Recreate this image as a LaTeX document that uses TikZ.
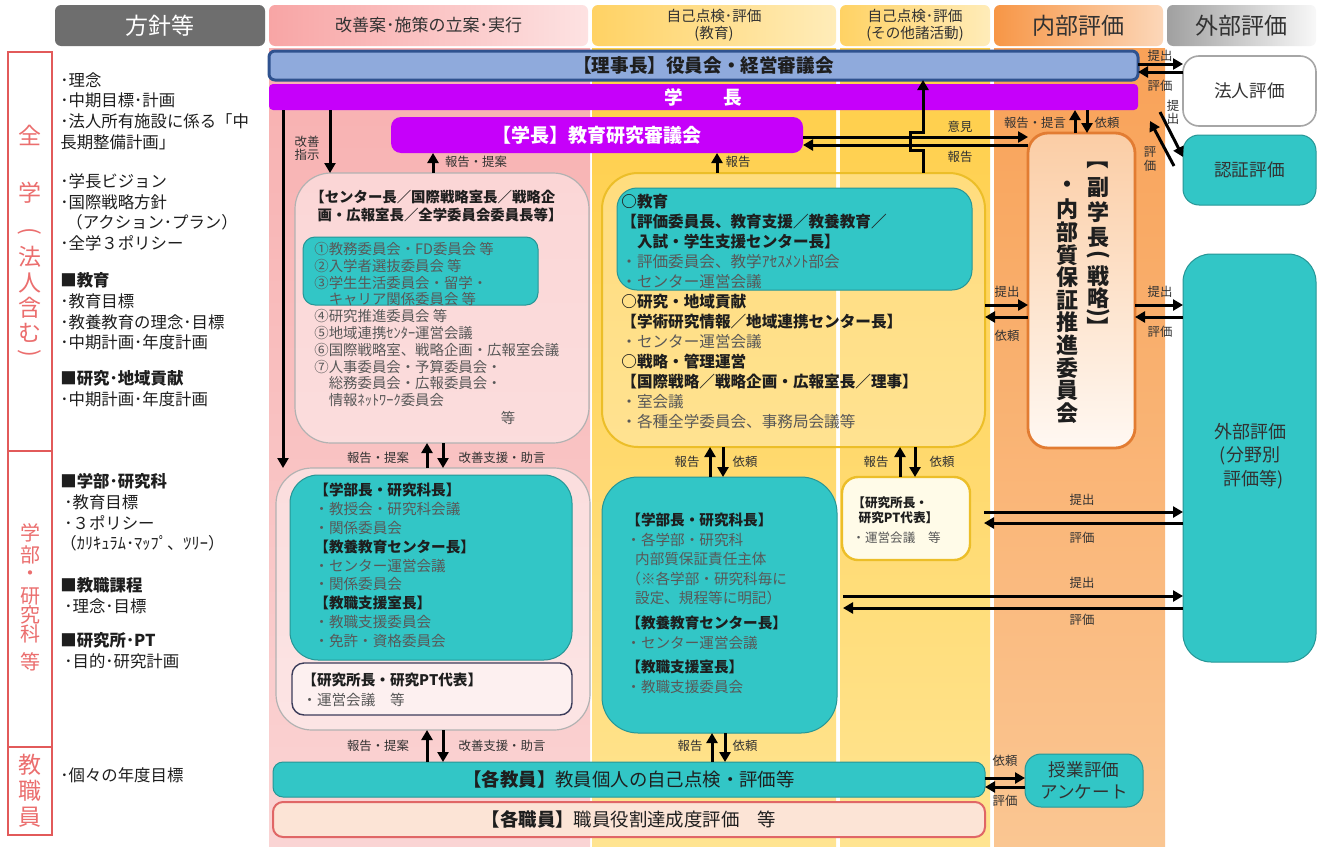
\documentclass[tikz,border=0pt]{standalone}
\usepackage{fontspec}
\setmainfont{Noto Sans CJK JP}
\usepackage{graphicx}
\usetikzlibrary{arrows.meta}
\definecolor{tealF}{RGB}{50,198,198}
\definecolor{tealD}{RGB}{38,150,150}
\definecolor{purp}{RGB}{198,0,250}
\definecolor{blueF}{RGB}{143,170,220}
\definecolor{blueD}{RGB}{47,82,143}
\definecolor{redB}{RGB}{226,90,90}
\definecolor{redT}{RGB}{235,110,110}
\definecolor{pinkT}{RGB}{248,176,176}
\definecolor{pinkM}{RGB}{253,234,234}
\definecolor{pinkB}{RGB}{250,212,212}
\definecolor{yelT}{RGB}{255,206,72}
\definecolor{yelM}{RGB}{255,246,220}
\definecolor{yelB}{RGB}{255,228,145}
\definecolor{orT}{RGB}{249,162,88}
\definecolor{orM}{RGB}{255,244,236}
\definecolor{orB}{RGB}{250,198,146}
\definecolor{itemG}{RGB}{88,88,88}
\definecolor{peach}{RGB}{252,228,214}
\definecolor{goldD}{RGB}{236,190,40}
\definecolor{orD}{RGB}{226,124,50}
\definecolor{txtD}{RGB}{30,30,30}
\definecolor{lblC}{RGB}{50,50,50}
\definecolor{vpT}{RGB}{251,205,165}
\definecolor{vpB}{RGB}{255,248,242}
\definecolor{hpL}{RGB}{248,165,165}
\definecolor{hpR}{RGB}{253,226,226}
\definecolor{hyL}{RGB}{255,210,100}
\definecolor{hyR}{RGB}{255,236,185}
\definecolor{hoL}{RGB}{247,150,70}
\definecolor{hoR}{RGB}{252,215,185}
\definecolor{hgL}{RGB}{160,160,160}
\definecolor{hgR}{RGB}{248,248,248}
\newcommand{\vrot}[1]{\rotatebox[origin=c]{-90}{#1}}
\newcommand{\mkbox}[6]{%
  \path (#3,#4) -- (#5,#6) coordinate[midway] (#2-m);%
  \node[inner sep=0pt, outer sep=0pt, minimum width={(#5-(#3))*0.5pt}, minimum height={(#6-(#4))*0.5pt}, #1] (#2) at (#2-m) {};}
\begin{document}
\begin{tikzpicture}[x=0.5pt,y=-0.5pt,
  arr/.style={line width=1.5pt, -{Triangle[length=5pt,width=5.5pt]}},
  lbl/.style={inner sep=0pt, text=lblC, font=\fontsize{6.2}{6.6}\selectfont, align=center},
  blk/.style={inner sep=0pt, anchor=north west, align=left, text=txtD},
  tealbox/.style={fill=tealF, draw=tealD, line width=0.5pt},
  grp/.style={draw=gray!60, line width=0.6pt, fill=white, fill opacity=0.45, rounded corners=18pt},
  vch/.style={inner sep=0pt, text=redT},
  vpt/.style={inner sep=0pt, text=txtD, font=\fontsize{11}{11}\selectfont\bfseries},
  redbox/.style={draw=redB, line width=1.3pt, fill=white}]
\useasboundingbox (0,0) rectangle (1321,846);
\fill[white] (0,0) rectangle (1321,846);
% column backgrounds
\fill[top color=pinkT, middle color=pinkM, bottom color=pinkB] (269,48) rectangle (590,846);
\fill[top color=yelT, middle color=yelM, bottom color=yelB] (592,48) rectangle (836,846);
\fill[top color=yelT, middle color=yelM, bottom color=yelB] (840,48) rectangle (990,846);
\fill[top color=orT, middle color=orM, bottom color=orB] (994,48) rectangle (1165,846);
% headers
\mkbox{fill={rgb,255:red,110;green,110;blue,110}, rounded corners=3pt}{h1}{55}{5}{265}{46}
\mkbox{left color=hpL, right color=hpR, rounded corners=3pt}{h2}{269}{5}{588}{46}
\mkbox{left color=hyL, right color=hyR, rounded corners=3pt}{h3}{592}{5}{836}{46}
\mkbox{left color=hyL, right color=hyR, rounded corners=3pt}{h4}{840}{5}{990}{46}
\mkbox{left color=hoL, right color=hoR, rounded corners=3pt}{h5}{994}{5}{1163}{46}
\mkbox{left color=hgL, right color=hgR, rounded corners=3pt}{h6}{1167}{5}{1316}{46}
\node[text=white, font=\fontsize{11.5}{13}\selectfont] (th1) at (h1) {方針等};
\node[text=lblC, font=\fontsize{8.5}{10}\selectfont] (th2) at (h2) {改善案･施策の立案･実行};
\node[text=lblC, font=\fontsize{7.3}{8.6}\selectfont, align=center] (th3) at (h3) {自己点検･評価\\(教育)};
\node[text=lblC, font=\fontsize{7.3}{8.6}\selectfont, align=center] (th4) at (h4) {自己点検･評価\\(その他諸活動)};
\node[text=lblC, font=\fontsize{11.5}{13}\selectfont] (th5) at (h5) {内部評価};
\node[text=lblC, font=\fontsize{11.5}{13}\selectfont] (th6) at (h6) {外部評価};
% left red boxes
\mkbox{redbox}{lb1}{8}{52}{52}{451}
\mkbox{redbox}{lb2}{8}{451}{52}{747}
\mkbox{redbox}{lb3}{8}{747}{52}{835}
\begin{scope}[every node/.style={vch, font=\fontsize{11.5}{12}\selectfont}]
\node (v1) at (30,135) {全};
\node (v2) at (30,193) {学};
\node (v3) at (30,233) {\vrot{(}};
\node (v4) at (30,257) {法};
\node (v5) at (30,283) {人};
\node (v6) at (30,308) {含};
\node (v7) at (30,333) {む};
\node (v8) at (30,355) {\vrot{)}};
\node (w1) at (30,765) {教};
\node (w2) at (30,791) {職};
\node (w3) at (30,817) {員};
\end{scope}
\begin{scope}[every node/.style={vch, font=\fontsize{10}{11}\selectfont}]
\node (u1) at (30,533) {学};
\node (u2) at (30,555) {部};
\node (u3) at (30,576) {・};
\node (u4) at (30,596) {研};
\node (u5) at (30,615) {究};
\node (u6) at (30,634) {科};
\node (u7) at (30,662) {等};
\end{scope}
% left column texts
\begin{scope}[every node/.style={blk, font=\fontsize{8.2}{10.4}\selectfont}]
\node (L1) at (60,72) {･理念\\･中期目標･計画\\･法人所有施設に係る「中\\長期整備計画」};
\node (L2) at (60,173) {･学長ビジョン\\･国際戦略方針\\\hspace*{3pt}（アクション･プラン）\\･全学３ポリシー};
\node (L3) at (60,272) {\textbf{■教育}\\･教育目標\\･教養教育の理念･目標\\･中期計画･年度計画};
\node (L4) at (60,370) {\textbf{■研究･地域貢献}\\･中期計画･年度計画};
\node (L5) at (60,473) {\textbf{■学部･研究科}\\\hspace*{2pt}･教育目標\\\hspace*{2pt}･３ポリシー\\（ｶﾘｷｭﾗﾑ･ﾏｯﾌﾟ、ﾂﾘｰ）};
\node (L6) at (60,577) {\textbf{■教職課程}\\\hspace*{2pt}･理念･目標};
\node (L7) at (60,632) {\textbf{■研究所･PT}\\\hspace*{2pt}･目的･研究計画};
\node (L8) at (60,767) {･個々の年度目標};
\end{scope}
% bars
\mkbox{fill=blueF, draw=blueD, line width=1.5pt, rounded corners=3pt}{rijicho}{269}{51}{1138}{80}
\mkbox{fill=purp, rounded corners=2pt}{gakucho}{269}{84}{1138}{110}
\mkbox{fill=purp, rounded corners=5pt}{kyoiku}{391}{117}{803}{153}
\node[font=\fontsize{9.3}{11}\selectfont\bfseries, text=txtD] (trj) at (rijicho) {【理事長】役員会・経営審議会};
\node[font=\fontsize{9.3}{11}\selectfont\bfseries, text=white] (tgc) at (gakucho) {学\hspace{20pt}長};
\node[font=\fontsize{9.5}{11}\selectfont\bfseries, text=white] (tky) at (kyoiku) {【学長】教育研究審議会};
% group boxes
\mkbox{grp}{pg1}{295}{173}{589}{443}
\mkbox{tealbox, rounded corners=6pt}{tl1}{303}{237}{538}{305}
\mkbox{grp, draw=goldD, line width=1pt, fill opacity=0.25}{yg}{602}{173}{985}{447}
\mkbox{tealbox, rounded corners=10pt}{tl2}{617}{188}{972}{290}
\mkbox{top color=vpT, bottom color=vpB, draw=orD, line width=1.4pt, rounded corners=10pt}{vp}{1028}{133}{1135}{448}
\mkbox{fill=white, draw=gray!70, line width=0.8pt, rounded corners=8pt}{hojin}{1183}{56}{1316}{126}
\mkbox{tealbox, rounded corners=8pt}{ninsho}{1183}{135}{1316}{205}
\mkbox{tealbox, rounded corners=14pt}{gaibu}{1183}{254}{1316}{662}
\mkbox{grp}{pg2}{276}{468}{590}{730}
\mkbox{tealbox, rounded corners=14pt}{tl3}{290}{475}{572}{660}
\mkbox{fill={rgb,255:red,253;green,240;blue,240}, draw={rgb,255:red,60;green,60;blue,90}, line width=0.7pt, rounded corners=6pt}{ken1}{292}{663}{572}{715}
\mkbox{tealbox, rounded corners=18pt}{tl4}{602}{477}{837}{733}
\mkbox{fill={rgb,255:red,255;green,251;blue,232}, draw=goldD, line width=1.2pt, rounded corners=8pt}{ken2}{842}{477}{970}{560}
\mkbox{tealbox, rounded corners=5pt}{kyoin}{273}{762}{985}{797}
\mkbox{fill=peach, draw={rgb,255:red,224;green,102;blue,102}, line width=1pt, rounded corners=5pt}{shoku}{273}{802}{985}{837}
\mkbox{tealbox, rounded corners=8pt}{jugyo}{1025}{754}{1143}{807}
% box texts
\node[blk, font=\fontsize{7.2}{8.6}\selectfont\bfseries] (tp1) at (310,190) {【センター長／国際戦略室長／戦略企\\\hspace*{0.5em}画・広報室長／全学委員会委員長等】};
\node[blk, text=itemG, font=\fontsize{7.2}{8.4}\selectfont] (tp2) at (314,242) {①教務委員会・FD委員会 等\\②入学者選抜委員会 等\\③学生生活委員会・留学・\\\hspace*{1em}キャリア関係委員会 等\\④研究推進委員会 等\\⑤地域連携ｾﾝﾀｰ運営会議\\⑥国際戦略室、戦略企画・広報室会議\\⑦人事委員会・予算委員会・\\\hspace*{1em}総務委員会・広報委員会・\\\hspace*{1em}情報ﾈｯﾄﾜｰｸ委員会};
\node[inner sep=0pt, text=itemG, font=\fontsize{7.2}{8.4}\selectfont] (tp3) at (508,418) {等};
\node[blk, font=\fontsize{7.8}{10}\selectfont] (ty1) at (621,194) {\textbf{○教育}\\\textbf{【評価委員長、教育支援／教養教育／}\\\textbf{\hspace*{1em}入試・学生支援センター長】}\\{\color{itemG}・評価委員会、教学ｱｾｽﾒﾝﾄ部会}\\{\color{itemG}・センター運営会議}\\\textbf{○研究・地域貢献}\\\textbf{【学術研究情報／地域連携センター長】}\\{\color{itemG}・センター運営会議}\\\textbf{○戦略・管理運営}\\\textbf{【国際戦略／戦略企画・広報室長／理事】}\\{\color{itemG}・室会議}\\{\color{itemG}・各種全学委員会、事務局会議等}};
\node[blk, font=\fontsize{7.3}{9.4}\selectfont] (tq1) at (314,483) {\textbf{【学部長・研究科長】}\\{\color{itemG}・教授会・研究科会議}\\{\color{itemG}・関係委員会}\\\textbf{【教養教育センター長】}\\{\color{itemG}・センター運営会議}\\{\color{itemG}・関係委員会}\\\textbf{【教職支援室長】}\\{\color{itemG}・教職支援委員会}\\{\color{itemG}・免許・資格委員会}};
\node[blk, font=\fontsize{7.3}{10}\selectfont] (tq2) at (302,673) {\textbf{【研究所長・研究PT代表】}\\{\color{itemG}・運営会議　等}};
\node[blk, font=\fontsize{7.3}{9.7}\selectfont] (tr1) at (626,513) {\textbf{【学部長・研究科長】}\\{\color{itemG}・各学部・研究科}\\{\color{itemG}\hspace*{0.6em}内部質保証責任主体}\\{\color{itemG}（※各学部・研究科毎に}\\{\color{itemG}\hspace*{0.6em}設定、規程等に明記）}\\[3pt]\textbf{【教養教育センター長】}\\{\color{itemG}・センター運営会議}\\[2.5pt]\textbf{【教職支援室長】}\\{\color{itemG}・教職支援委員会}};
\node[blk, font=\fontsize{6.3}{7.6}\selectfont] (tr2) at (852,496) {\textbf{【研究所長・}\\\textbf{\hspace*{0.5em}研究PT代表】}\\[2.5pt]{\color{itemG}・運営会議　等}};
\node[text=lblC, font=\fontsize{8.8}{10}\selectfont] (thj) at (hojin) {法人評価};
\node[text=lblC, font=\fontsize{8.8}{10}\selectfont] (tns) at (ninsho) {認証評価};
\node[text=lblC, font=\fontsize{9}{11.8}\selectfont, align=center] (tgb) at (1250,456) {外部評価\\(分野別\\\hspace*{0.4em}評価等)};
\node[text=txtD, font=\fontsize{9.2}{11}\selectfont] (tky2) at (kyoin) {\textbf{【各教員】}教員個人の自己点検・評価等};
\node[text=txtD, font=\fontsize{9.2}{11}\selectfont] (tsh) at (shoku) {\textbf{【各職員】}職員役割達成度評価　等};
\node[text=lblC, font=\fontsize{8.8}{11}\selectfont, align=center] (tjg) at (jugyo) {授業評価\\アンケート};
% VP vertical text
\node[vpt] (vr1) at (1098,158) {\vrot{【}};
\node[vpt] (vr2) at (1098,187) {副};
\node[vpt] (vr3) at (1098,212) {学};
\node[vpt] (vr4) at (1098,237) {長};
\node[vpt] (vr5) at (1098,256) {\vrot{(}};
\node[vpt] (vr6) at (1098,276) {戦};
\node[vpt] (vr7) at (1098,298) {略};
\node[vpt] (vr8) at (1098,314) {\vrot{)}};
\node[vpt] (vr9) at (1098,327) {\vrot{】}};
\foreach \c [count=\i from 0] in {・,内,部,質,保,証,推,進,委,員,会}
  \node[vpt] (vl\i) at (1067,{187+22.6*\i}) {\c};
% arrows
\coordinate (d1) at (1160,112);
\coordinate (d2) at (1150,121);
\coordinate (d3) at (1174,166);
\draw[arr] (gakucho.south -| 283,0) -- (pg2.north -| 283,0);
\draw[arr] (gakucho.south -| 330,0) -- (pg1.north -| 330,0);
\draw[arr] (pg1.north -| 433,0) -- (kyoiku.south -| 433,0);
\draw[arr] (yg.north -| 717,0) -- (kyoiku.south -| 717,0);
\draw[arr] (kyoiku.east |- 0,137) -- (vp.west |- 0,137);
\draw[arr] (vp.west |- 0,145) -- (kyoiku.east |- 0,145);
\draw[arr] (yg.north -| 923,0) -- (923,150) -- (910,150) -- (910,132) -- (923,132) -- (rijicho.south -| 923,0);
\draw[arr] (vp.north -| 1075,0) -- (gakucho.south -| 1075,0);
\draw[arr] (gakucho.south -| 1087,0) -- (vp.north -| 1087,0);
\draw[arr] (rijicho.east |- 0,64) -- (hojin.west |- 0,64);
\draw[arr] (hojin.west |- 0,72) -- (rijicho.east |- 0,72);
\draw[arr] (d1) -- (ninsho.west |- 0,157);
\draw[arr] (d3) -- (d2);
\draw[arr] (yg.east |- 0,305) -- (vp.west |- 0,305);
\draw[arr] (vp.west |- 0,317) -- (yg.east |- 0,317);
\draw[arr] (vp.east |- 0,305) -- (gaibu.west |- 0,305);
\draw[arr] (gaibu.west |- 0,317) -- (vp.east |- 0,317);
\draw[arr] (pg2.north -| 427,0) -- (pg1.south -| 427,0);
\draw[arr] (pg1.south -| 443,0) -- (pg2.north -| 443,0);
\draw[arr] (tl4.north -| 710,0) -- (yg.south -| 710,0);
\draw[arr] (yg.south -| 723,0) -- (tl4.north -| 723,0);
\draw[arr] (ken2.north -| 900,0) -- (yg.south -| 900,0);
\draw[arr] (yg.south -| 915,0) -- (ken2.north -| 915,0);
\draw[arr, shorten <=7pt] (ken2.east |- 0,512) -- (gaibu.west |- 0,512);
\draw[arr, shorten >=7pt] (gaibu.west |- 0,523) -- (ken2.east |- 0,523);
\draw[arr, shorten <=3pt] (tl4.east |- 0,596) -- (gaibu.west |- 0,596);
\draw[arr, shorten >=3pt] (gaibu.west |- 0,608) -- (tl4.east |- 0,608);
\draw[arr] (kyoin.north -| 427,0) -- (pg2.south -| 427,0);
\draw[arr] (pg2.south -| 443,0) -- (kyoin.north -| 443,0);
\draw[arr] (kyoin.north -| 712,0) -- (tl4.south -| 712,0);
\draw[arr] (tl4.south -| 725,0) -- (kyoin.north -| 725,0);
\draw[arr] (kyoin.east |- 0,778) -- (jugyo.west |- 0,778);
\draw[arr] (jugyo.west |- 0,787) -- (kyoin.east |- 0,787);
% labels
\node[lbl] (a1) at (307,148) {改善\\指示};
\node[lbl] (a2) at (476,162) {報告・提案};
\node[lbl] (a3) at (738,162) {報告};
\node[lbl] (a4) at (960,127) {意見};
\node[lbl] (a5) at (960,157) {報告};
\node[lbl] (a6) at (1035,123) {報告・提言};
\node[lbl] (a7) at (1107,123) {依頼};
\node[lbl] (a8) at (1160,56) {提出};
\node[lbl] (a9) at (1160,86) {評価};
\node[lbl] (a10) at (1173,112) {提\\出};
\node[lbl] (a11) at (1150,159) {評\\価};
\node[lbl] (a12) at (1007,292) {提出};
\node[lbl] (a13) at (1007,336) {依頼};
\node[lbl] (a14) at (1160,292) {提出};
\node[lbl] (a15) at (1160,332) {評価};
\node[lbl] (a16) at (378,458) {報告・提案};
\node[lbl] (a17) at (502,458) {改善支援・助言};
\node[lbl] (a18) at (687,462) {報告};
\node[lbl] (a19) at (745,462) {依頼};
\node[lbl] (a20) at (876,462) {報告};
\node[lbl] (a21) at (942,462) {依頼};
\node[lbl] (a22) at (1082,500) {提出};
\node[lbl] (a23) at (1082,538) {評価};
\node[lbl] (a24) at (1082,583) {提出};
\node[lbl] (a25) at (1082,620) {評価};
\node[lbl] (a26) at (378,746) {報告・提案};
\node[lbl] (a27) at (502,746) {改善支援・助言};
\node[lbl] (a28) at (690,746) {報告};
\node[lbl] (a29) at (745,746) {依頼};
\node[lbl] (a30) at (1005,761) {依頼};
\node[lbl] (a31) at (1005,801) {評価};
\end{tikzpicture}
\end{document}
